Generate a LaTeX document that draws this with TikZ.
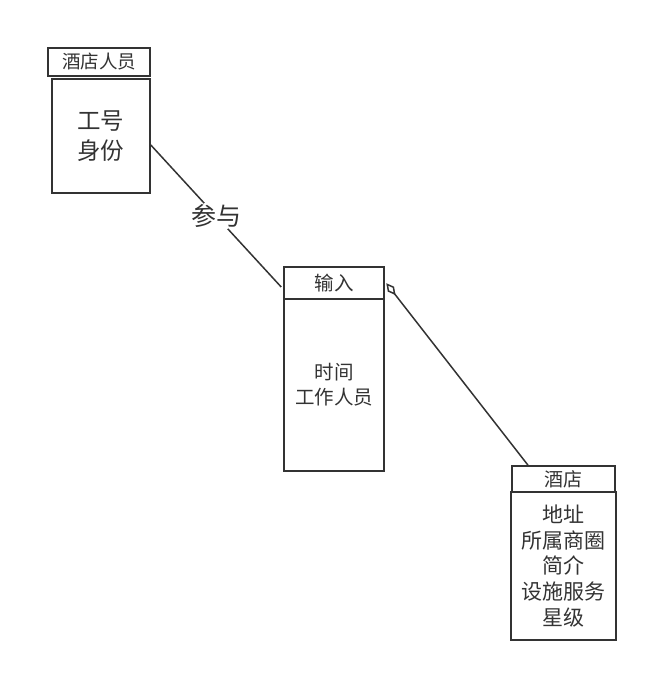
\documentclass[tikz,border=0pt]{standalone}
\usepackage{fontspec}
\setmainfont{Noto Sans CJK SC}
\usetikzlibrary{arrows.meta}
\definecolor{ink}{HTML}{333333}
\tikzset{
  box/.style={draw=ink,line width=1.6pt,rectangle,inner sep=0pt,text=ink,align=center},
  link/.style={draw=ink,line width=1.5pt}
}
\begin{document}
\begin{tikzpicture}[x=1pt,y=-1pt]
\useasboundingbox (0,0) rectangle (648,673);

% staff
\node[box,minimum width=102,minimum height=28,font=\fontsize{18.5}{20}\selectfont] (staffT) at (99,62) {酒店人员};
\node[box,minimum width=98,minimum height=114,font=\fontsize{23.5}{30}\selectfont] (staff) at (101,136) {工号\\身份};

% input
\node[box,minimum width=100,minimum height=32,font=\fontsize{19.5}{22}\selectfont] (inT) at (334,283) {输入};
\node[box,minimum width=100,minimum height=172,font=\fontsize{19.5}{25}\selectfont] (in) at (334,385) {时间\\工作人员};

% hotel
\node[box,minimum width=103,minimum height=26,font=\fontsize{19}{21}\selectfont] (hotT) at (563.5,479) {酒店};
\node[box,minimum width=105,minimum height=148,font=\fontsize{21}{25.6}\selectfont] (hot) at (563.5,566) {地址\\所属商圈\\简介\\设施服务\\星级};

% relation
\node[text=ink,font=\fontsize{25}{27}\selectfont,inner sep=1pt] (rel) at (216,216) {参与};
\draw[link] ([yshift=-9]staff.east) -- (rel) -- ([shift={(-2,4)}]inT.west);
\draw[link,{Diamond[open,length=15pt,width=8pt]}-] ([shift={(1.5,17)}]inT.north east) -- ([xshift=-35.5]hotT.north);
\end{tikzpicture}
\end{document}
